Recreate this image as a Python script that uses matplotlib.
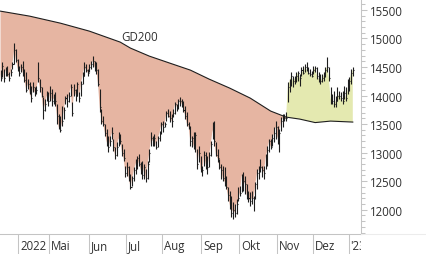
import matplotlib
matplotlib.use("Agg")
import numpy as np
import matplotlib.pyplot as plt
from matplotlib.ticker import MultipleLocator
from matplotlib.lines import Line2D

# Daily bars (index runs from mid-March 2022 to early January 2023)
high = [14440, 14585, 14460, 14500, 14515, 14410, 14460, 14585, 14920, 14810, 14640, 14515,
        14550, 14600, 14460, 14410, 14290, 14235, 14165, 14235, 14150, 14165, 14585, 14290,
        14150, 13970, 13937, 14080, 14060, 14165, 14110, 14025, 14060, 13850, 13675, 13640,
        13815, 13800, 13990, 14025, 14060, 14200, 13885, 14200, 14110, 14235, 14060, 14250,
        14410, 14585, 14550, 14460, 14550, 14600, 14690, 14600, 14585, 14460, 14110, 13760,
        13640, 13500, 13410, 13290, 13290, 13450, 13237, 13100, 13185, 13360, 13325,
        13150, 13062, 12765, 12835, 12765, 12625, 12590, 12745, 12887, 12940, 12975, 12835,
        12850, 12800, 12712, 12850, 13062, 13360, 13290, 13325, 13200, 13290, 13380, 13535,
        13552, 13535, 13725, 13762, 13725, 13675, 13762, 13885, 13850, 13937, 13970,
        13937, 13900, 13815, 13710, 13535, 13465, 13290, 13360, 13360, 13062, 13115, 12940,
        12765, 13030, 13010, 12940, 13010, 13200, 13535, 13552, 13185, 13062, 12887, 12800,
        12765, 12745, 12590, 12397, 12327, 12240, 12135, 12100, 12187, 12397, 12415,
        12625, 12660, 12590, 12450, 12327, 12310, 12327, 12240, 12485, 12712, 12765, 12887,
        12765, 12765, 12975, 13115, 13237, 13237, 13325, 13447, 13552, 13465, 13412, 13622,
        13675, 13675, 13710, 14235, 14287, 14410, 14340, 14340, 14410, 14427, 14375,
        14497, 14515, 14550, 14585, 14497, 14462, 14427, 14515, 14515, 14497, 14410, 14375,
        14375, 14410, 14497, 14672, 14497, 14150, 14025, 14080, 13990, 14150, 14080, 14060,
        14080, 14165, 14150, 14287, 14322, 14462, 14497]

low = [14260, 14320, 14235, 14340, 14340, 14250, 14340, 14460, 14550, 14585, 14430, 14340,
       14410, 14340, 14235, 14060, 14110, 14025, 13885, 14060, 13990, 14025, 14235, 14060,
       13970, 13590, 13730, 13900, 13815, 13900, 13815, 13850, 13815, 13500, 13410, 13360,
       13465, 13590, 13850, 13800, 13885, 13990, 13640, 13990, 13900, 13990, 13885, 13990,
       14200, 14340, 14410, 14340, 14410, 14460, 14500, 14430, 14375, 14165, 13710, 13500,
       13465, 13290, 13115, 13010, 13115, 13237, 13030, 12887, 12940, 13115, 13150,
       12940, 12852, 12572, 12590, 12500, 12362, 12415, 12500, 12625, 12712, 12765, 12625,
       12537, 12537, 12485, 12537, 12835, 13115, 13115, 13115, 13062, 13100, 13200, 13325,
       13360, 13447, 13552, 13622, 13535, 13447, 13622, 13675, 13730, 13762, 13815,
       13797, 13710, 13587, 13465, 13412, 13115, 13100, 13062, 13010, 12712, 12835, 12660,
       12590, 12765, 12712, 12625, 12745, 12940, 13237, 13115, 12940, 12835, 12712, 12537,
       12500, 12415, 12362, 12152, 12012, 11872, 11837, 11872, 11925, 12152, 12240,
       12310, 12327, 12275, 12187, 12135, 12065, 12100, 11977, 12187, 12362, 12537, 12660,
       12572, 12537, 12712, 12765, 13010, 13062, 13115, 13185, 13237, 13150, 13010, 13380,
       13447, 13552, 13552, 13885, 14060, 14165, 14150, 14200, 14235, 14252, 14165,
       14340, 14375, 14410, 14427, 14375, 14340, 14322, 14375, 14410, 14287, 14235, 14200,
       14235, 14252, 14322, 14410, 14252, 13850, 13850, 13797, 13797, 13900, 13937, 13900,
       13850, 13937, 13900, 14025, 14080, 14200, 14340]

close = [14300, 14520, 14300, 14450, 14380, 14300, 14420, 14560, 14800, 14620, 14480, 14400,
         14500, 14400, 14280, 14100, 14200, 14050, 13950, 14150, 14050, 14100, 14300, 14150,
         14000, 13750, 13850, 14000, 13900, 14050, 13900, 13950, 13900, 13650, 13450, 13400,
         13550, 13750, 13950, 13900, 14000, 14150, 13700, 14100, 14000, 14200, 13950, 14200,
         14350, 14500, 14450, 14400, 14500, 14550, 14600, 14500, 14450, 14200, 13800, 13550,
         13500, 13350, 13200, 13100, 13200, 13350, 13100, 12950, 13100, 13250, 13200,
         13000, 12900, 12650, 12750, 12550, 12400, 12550, 12700, 12800, 12900, 12800, 12700,
         12600, 12750, 12550, 12800, 13000, 13250, 13200, 13250, 13100, 13250, 13350, 13500,
         13450, 13500, 13700, 13650, 13600, 13550, 13700, 13850, 13800, 13900, 13900,
         13850, 13750, 13650, 13500, 13450, 13200, 13250, 13100, 13300, 12800, 13000, 12700,
         12700, 12950, 12800, 12750, 12950, 13150, 13400, 13200, 12950, 12900, 12750, 12700,
         12550, 12500, 12400, 12250, 12100, 11950, 12000, 11950, 12100, 12200, 12300,
         12600, 12500, 12450, 12250, 12200, 12150, 12200, 12200, 12450, 12650, 12700, 12750,
         12700, 12650, 12900, 13050, 13200, 13100, 13250, 13350, 13450, 13250, 13350, 13550,
         13600, 13600, 13600, 14150, 14250, 14350, 14250, 14300, 14350, 14400, 14300,
         14450, 14400, 14500, 14450, 14400, 14380, 14350, 14450, 14480, 14350, 14300, 14250,
         14300, 14350, 14450, 14500, 14300, 13950, 13900, 13850, 13900, 14000, 14000, 13950,
         13900, 14050, 13950, 14100, 14250, 14400, 14450]

# GD200 (200-day average) read at a few bars
ma_bar = [0, 17, 35, 52, 70, 76, 87, 99, 111, 122, 134, 146, 158, 167, 175, 184, 193, 206]
ma_val = [15477, 15390, 15267, 15127, 14935, 14830, 14690, 14567, 14445, 14287, 14130,
          13955, 13727, 13622, 13587, 13526, 13552, 13535]

# first bar of each month
month_first_bar = [11, 29, 52, 74, 95, 118, 140, 162, 183, 204]
month_labels = ["2022", "Mai", "Jun", "Jul", "Aug", "Sep", "Okt", "Nov", "Dez", "'23"]

cross_bar = 168  # first close above the GD200
cross_ma = 13  # position of bar 167 in ma_bar

assert len(high) == len(low) == len(close)
n = len(close)
idx = np.arange(n)

plt.rcParams['font.family'] = ['Open Sans', 'DejaVu Sans']
txt_col = '#303030'
grid_col = '#c4c4c4'

fig = plt.figure(figsize=(4.26, 2.55), dpi=100)
W, H = 426, 255
ax = fig.add_axes([0, 20 / H, 361 / W, 235 / H])
xlim = (-0.3, 210.8)

# area below the average (salmon) and above it (yellow)
sx = ma_bar[:cross_ma + 1] + list(range(cross_bar - 1, -1, -1))
sy = ma_val[:cross_ma + 1] + close[cross_bar - 1::-1]
ax.fill(sx, sy, color='#e6b5a2', lw=0, zorder=1)
yx = list(range(cross_bar, n)) + ma_bar[cross_ma:][::-1]
yy = close[cross_bar:] + ma_val[cross_ma:][::-1]
ax.fill(yx, yy, color='#e4e9b0', lw=0, zorder=1)

ax.plot(ma_bar, ma_val, color='#1e1e1e', lw=0.8, zorder=2)
ax.text(70.5, 15040, 'GD200', color=txt_col, fontsize=8.3, ha='left', va='center')

# OHLC style bars
ax.vlines(idx, low, high, colors='#1e1e1e', lw=0.8, zorder=3)
ax.hlines(close, idx, idx + 0.6, colors='#1e1e1e', lw=0.8, zorder=3)

ax.set_xlim(*xlim)
ax.set_ylim(11575, 15690)
ax.set_xticks([])
ax.yaxis.tick_right()
ax.yaxis.set_major_locator(MultipleLocator(500))
ax.yaxis.set_minor_locator(MultipleLocator(100))
ax.tick_params(axis='y', which='major', length=4.3, width=0.75, color=grid_col,
               labelsize=8.3, labelcolor=txt_col, pad=2.5)
ax.tick_params(axis='y', which='minor', length=2.7, width=0.75, color=grid_col)
for side in ['top', 'left']:
    ax.spines[side].set_visible(False)
for side in ['right', 'bottom']:
    ax.spines[side].set_color(grid_col)
    ax.spines[side].set_linewidth(0.75)

# month band under the chart
band = fig.add_axes([0, 0, 361 / W, 20 / H])
band.set_xlim(*xlim)
band.set_ylim(0, 1)
band.axis('off')
for b, lab in zip(month_first_bar, month_labels):
    band.axvline(b - 0.5, color=grid_col, lw=0.75)
    band.text(b + 0.6, 0.42, lab, color=txt_col, fontsize=8.3, ha='left', va='center',
              clip_on=True)

fig.add_artist(Line2D([361 / W, 1], [20 / H, 20 / H], color='#ececec', lw=0.75))

fig.savefig('out.png', dpi=100)
